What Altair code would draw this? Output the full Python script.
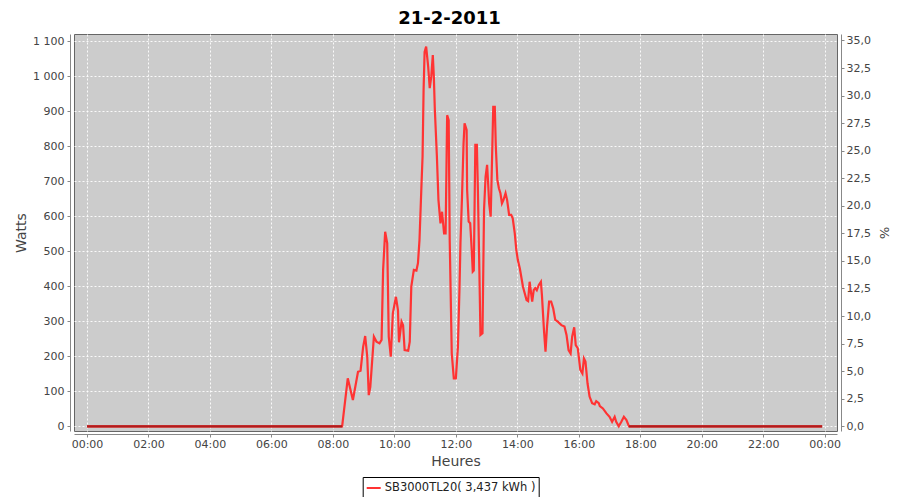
import altair as alt
import pandas as pd

# ---- data ----
times = [
    "00:00", "08:18", "08:29", "08:39", "08:49", "08:54", "08:59", "09:03", "09:07", "09:10",
    "09:13", "09:20", "09:25", "09:31", "09:35", "09:38", "09:42", "09:46", "09:49", "09:53",
    "09:57", "10:03", "10:07", "10:09", "10:14", "10:17", "10:20", "10:27", "10:30", "10:33",
    "10:38", "10:43", "10:46", "10:49", "10:53", "10:55", "10:57", "10:59", "11:02", "11:06",
    "11:09", "11:12", "11:15", "11:17", "11:19", "11:23", "11:26", "11:30", "11:33", "11:37",
    "11:40", "11:43", "11:46", "11:48", "11:52", "11:56", "12:00", "12:04", "12:07", "12:09",
    "12:12", "12:15", "12:17", "12:21", "12:22", "12:25", "12:28", "12:31", "12:33", "12:35",
    "12:38", "12:41", "12:43", "12:46", "12:48", "12:52", "12:55", "12:58", "13:01", "13:03",
    "13:05", "13:08", "13:10", "13:13", "13:16", "13:18", "13:21", "13:24", "13:27", "13:30",
    "13:33", "13:37", "13:40", "13:44", "13:48", "13:51", "13:55", "13:58", "14:01", "14:05",
    "14:11", "14:18", "14:21", "14:24", "14:29", "14:32", "14:35", "14:38", "14:42", "14:46",
    "14:48", "14:52", "14:55", "14:58", "15:02", "15:06", "15:10", "15:14", "15:19", "15:26",
    "15:32", "15:36", "15:40", "15:44", "15:47", "15:51", "15:54", "15:58", "16:03", "16:07",
    "16:10", "16:13", "16:17", "16:21", "16:26", "16:31", "16:34", "16:39", "16:41", "16:47",
    "16:54", "17:00", "17:05", "17:10", "17:13", "17:18", "17:23", "17:28", "17:33", "17:38",
    "23:55",
]
watts = [
    0, 0, 137, 75, 156, 159, 227, 258, 199, 89,
    113, 256, 242, 237, 247, 447, 556, 523, 256, 199,
    323, 370, 332, 240, 299, 289, 218, 216, 242, 399,
    447, 445, 466, 532, 694, 770, 961, 1070, 1085, 1027,
    966, 999, 1061, 999, 904, 770, 647, 580, 613, 551,
    551, 889, 875, 532, 208, 137, 137, 227, 389, 523,
    656, 808, 866, 847, 675, 585, 580, 504, 442, 445,
    804, 804, 675, 437, 261, 266, 618, 713, 747, 694,
    637, 599, 723, 913, 913, 799, 704, 680, 666, 637,
    647, 666, 647, 604, 604, 594, 551, 504, 475, 450,
    399, 361, 358, 413, 356, 389, 395, 389, 404, 413,
    375, 275, 213, 285, 356, 356, 337, 304, 299, 289,
    285, 261, 218, 208, 256, 283, 232, 223, 161, 151,
    194, 185, 123, 85, 66, 63, 72, 66, 58, 51,
    37, 27, 13, 27, 13, 0, 13, 27, 18, 0,
    0,
]
series_name = "SB3000TL20( 3,437 kWh )"
chart_title = "21-2-2011"
x_title = "Heures"
y_title = "Watts"
y2_title = "%"
watts_per_pct = 31.5          # right axis: percent of nominal power
day = "2011-02-21"
x_tick_hours = list(range(0, 25, 2))
y_ticks = list(range(0, 1101, 100))
pct_ticks = [i * 2.5 for i in range(15)]

# ---- build tables ----
df = pd.DataFrame({
    "t": [f"{day}T{s}" for s in times],
    "W": watts,
})
df["pct"] = df["W"] / watts_per_pct
df["serie"] = series_name

# zero stretches (drawn darker as in the reference)
segs = []
for i in range(len(watts) - 1):
    if watts[i] == 0 and watts[i + 1] == 0:
        segs.append({"t": df["t"][i], "t2": df["t"][i + 1], "W": 0})
zero_df = pd.DataFrame(segs)

x_lo = alt.DateTime(year=2011, month=2, date=20, hours=23, minutes=34, seconds=36)
x_hi = alt.DateTime(year=2011, month=2, date=22, hours=0, minutes=24)
x_vals = [alt.DateTime(year=2011, month=2, date=21 + h // 24, hours=h % 24) for h in x_tick_hours]

y_dom = [-13.4, 1120.9]
pct_dom = [y_dom[0] / watts_per_pct, y_dom[1] / watts_per_pct]

x_enc = alt.X(
    "t:T",
    scale=alt.Scale(domain=[x_lo, x_hi]),
    axis=alt.Axis(
        values=x_vals, format="%H:%M", title=x_title, offset=3, tickSize=3,
        labelPadding=1, titlePadding=5, grid=True,
    ),
)

line = alt.Chart(df).mark_line(strokeWidth=2.2, interpolate="linear").encode(
    x=x_enc,
    y=alt.Y(
        "W:Q",
        scale=alt.Scale(domain=y_dom, nice=False, zero=False),
        axis=alt.Axis(
            orient="left", values=y_ticks, title=y_title, offset=4, tickSize=3,
            labelPadding=3, titlePadding=4, grid=True,
            labelExpr="replace(format(datum.value, ','), ',', ' ')",
        ),
    ),
    color=alt.Color(
        "serie:N",
        scale=alt.Scale(range=["#ff3333"]),
        legend=alt.Legend(
            title=None, orient="none", legendX=288.7, legendY=443,
            strokeColor="black", fillColor="white", padding=3,
            symbolType="stroke", symbolStrokeWidth=2, symbolSize=196,
            labelFont="DejaVu Sans", labelFontSize=11.5, labelColor="#222222",
            labelOffset=3,
        ),
    ),
)

zero_rule = alt.Chart(zero_df).mark_rule(strokeWidth=2.2, color="#b01c1c").encode(
    x="t:T",
    x2="t2:T",
    y=alt.Y("W:Q", scale=alt.Scale(domain=y_dom, nice=False, zero=False), axis=None),
)

pct_layer = alt.Chart(df).mark_line(opacity=0).encode(
    x="t:T",
    y=alt.Y(
        "pct:Q",
        scale=alt.Scale(domain=pct_dom, nice=False, zero=False),
        axis=alt.Axis(
            orient="right", values=pct_ticks, title=y2_title, offset=4, tickSize=3,
            labelPadding=2, titlePadding=6, grid=False, titleFontSize=13,
            labelExpr="replace(format(datum.value, '.1f'), '.', ',')",
        ),
    ),
)

chart = (
    alt.layer(line, zero_rule, pct_layer)
    .resolve_scale(y="independent")
    .properties(
        width=763,
        height=397,
        autosize=alt.AutoSizeParams(type="none"),
        padding={"left": 66, "top": 26, "right": 55, "bottom": 66},
        background="white",
        title=alt.TitleParams(
            chart_title, font="DejaVu Sans", fontSize=18, fontWeight="bold",
            color="black", anchor="middle", dx=-6, offset=6,
        ),
    )
    .configure_view(fill="#cccccc", stroke="#666666", strokeWidth=1)
    .configure_axis(
        labelFont="DejaVu Sans", labelFontSize=11, labelColor="#444444",
        titleFont="DejaVu Sans", titleFontSize=14, titleFontWeight="normal",
        titleColor="#444444", domainColor="#888888", tickColor="#888888",
        gridColor="#ffffff", gridDash=[2, 2], gridOpacity=0.9, gridWidth=1,
    )
)

chart.save("out.html", embed_options={"renderer": "svg", "actions": False})
